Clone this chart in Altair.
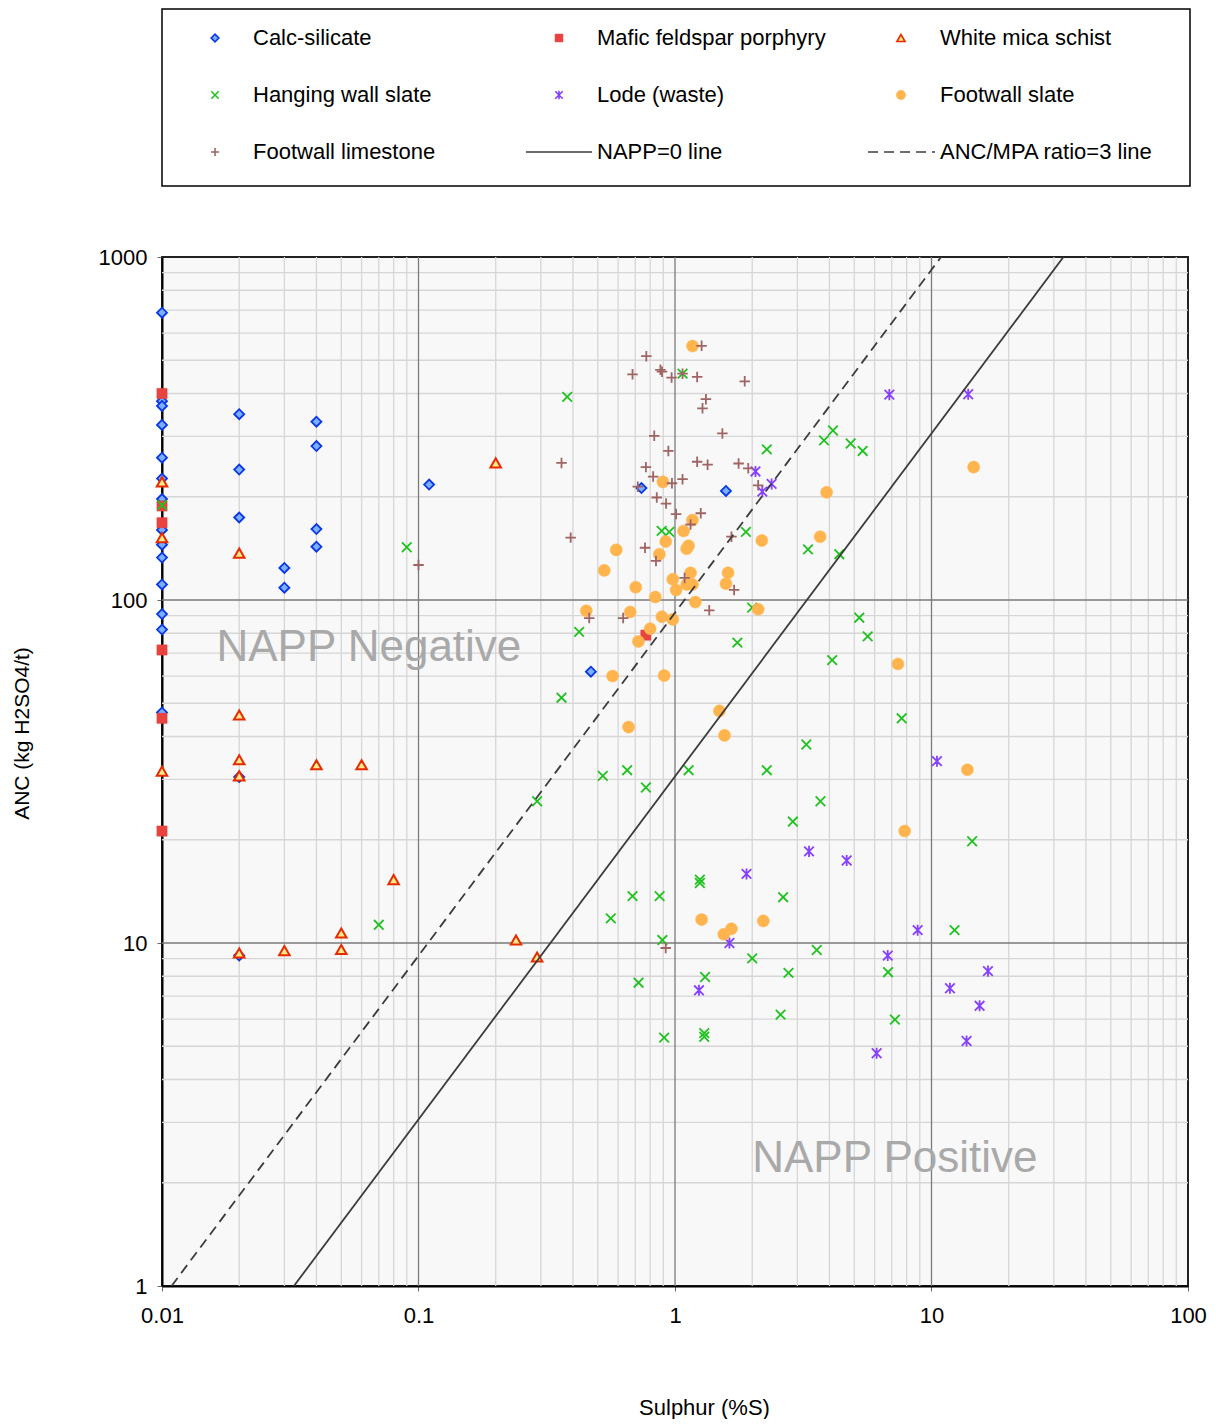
import altair as alt
import pandas as pd

# ---------------- data ----------------
calc_S = [0.01, 0.01, 0.01, 0.01, 0.01, 0.01, 0.01, 0.01, 0.01, 0.01, 0.01, 0.01, 0.01, 0.01,
          0.02, 0.02, 0.02, 0.02, 0.02, 0.03, 0.03, 0.04, 0.04, 0.04, 0.04, 0.11, 0.74, 1.58, 0.47]
calc_A = [688, 380, 368, 324, 260, 226, 197, 160, 145, 133, 111, 91, 82, 47,
          348, 240, 174, 30.5, 9.2, 124, 108.6, 331, 281, 161, 143, 217, 212, 208, 61.8]

mafic_S = [0.01, 0.01, 0.01, 0.01, 0.01, 0.01, 0.77]
mafic_A = [400, 188, 168, 71.5, 45.2, 21.2, 79]

mica_S = [0.01, 0.01, 0.01, 0.02, 0.02, 0.02, 0.02, 0.02, 0.03, 0.04, 0.06, 0.08, 0.05, 0.05, 0.24, 0.29, 0.2]
mica_A = [221, 152, 31.7, 137, 46.2, 34.2, 30.7, 9.35, 9.5, 33.1, 33.1, 15.3, 10.7, 9.57, 10.2, 9.1, 251]

hw_S = [0.01, 0.09, 0.07, 0.29, 0.38, 1.07, 2.28, 0.887, 0.95, 1.89, 0.423, 0.361, 1.75, 2.0, 5.23, 5.64,
        4.10, 7.65, 3.25, 2.28, 1.13, 0.651, 0.523, 0.77, 3.69, 2.88, 1.25, 1.25, 0.683, 0.871, 2.64,
        0.562, 0.893, 3.57, 2.0, 2.77, 6.77, 1.31, 0.721, 2.58, 7.2, 1.30, 1.30, 0.907, 3.81, 4.13, 4.84,
        5.39, 3.30, 4.37, 14.4, 12.3]
hw_A = [189, 142.5, 11.3, 25.9, 391, 457, 275, 159, 158, 158, 80.7, 51.9, 75.1, 95, 88.8, 78.3,
        66.8, 45.2, 37.9, 31.9, 31.9, 31.9, 30.7, 28.4, 25.9, 22.6, 15.3, 14.96, 13.7, 13.7, 13.6,
        11.8, 10.2, 9.54, 9.02, 8.18, 8.22, 7.96, 7.66, 6.18, 5.98, 5.46, 5.33, 5.3, 292, 312, 286,
        272, 140.5, 136, 19.8, 10.9]

lode_S = [2.06, 2.38, 2.19, 6.85, 13.9, 3.33, 4.67, 1.90, 1.63, 1.24, 10.5, 8.83, 6.75, 16.6, 11.8, 15.4, 13.7, 6.11]
lode_A = [237, 218, 207, 397, 398, 18.5, 17.4, 15.9, 10.0, 7.28, 33.9, 10.9, 9.19, 8.28, 7.38, 6.56, 5.18, 4.77]

fws_S = [1.17, 0.897, 1.17, 1.08, 0.92, 1.13, 1.11, 0.59, 0.869, 0.53, 2.18, 1.61, 1.58, 0.703, 0.98,
         1.01, 1.15, 1.11, 1.17, 0.838, 1.20, 0.451, 0.669, 0.889, 0.98, 0.80, 2.11, 0.72, 0.571, 0.907,
         0.659, 1.49, 1.56, 7.40, 7.86, 1.27, 1.55, 1.66, 2.21, 3.90, 3.68, 14.6, 13.8]
fws_A = [550, 221, 171, 159, 148, 144, 141, 140, 136, 122, 149, 120, 111.6, 109, 115,
         107, 120, 111, 111, 102, 98.6, 93, 92.3, 89.4, 87.8, 82.5, 94, 75.7, 60, 60.2,
         42.6, 47.5, 40.3, 65.1, 21.2, 11.7, 10.6, 11.0, 11.6, 206, 153, 244, 32.0]

fwl_S = [0.1, 1.27, 0.773, 0.683, 0.877, 0.89, 0.97, 1.07, 1.22, 1.87, 1.32, 1.28, 0.83, 1.53, 0.942,
         0.361, 0.77, 1.22, 1.34, 1.77, 1.93, 0.822, 0.716, 0.973, 1.07, 2.11, 0.849, 0.923, 1.01,
         1.26, 1.15, 1.66, 0.392, 0.764, 0.843, 1.09, 1.70, 1.36, 0.463, 0.628, 0.92]
fwl_A = [126.5, 551, 514, 455, 469, 463, 445, 457, 447, 434, 385, 362, 301, 306, 272,
         251, 244, 253, 248, 250, 242, 229, 214, 219, 225, 216, 199, 191, 178,
         179, 166, 153, 152, 142, 130, 116, 107, 93.3, 88.6, 88.6, 9.67]

# reference lines: NAPP = 0 -> ANC = MPA = 30.6*S ; ANC/MPA = 3 -> ANC = 91.8*S
line_S = [0.01, 100]
mpa_factor = 30.6

x_ticks = [0.01, 0.1, 1, 10, 100]
y_ticks = [1, 10, 100, 1000]
x_grid_minor = [0.02, 0.03, 0.04, 0.05, 0.06, 0.07, 0.08, 0.09, 0.2, 0.3, 0.4, 0.5, 0.6, 0.7, 0.8, 0.9,
                2, 3, 4, 5, 6, 7, 8, 9, 20, 30, 40, 50, 60, 70, 80, 90]
x_grid_major = [0.1, 1, 10]
y_grid_minor = [2, 3, 4, 5, 6, 7, 8, 9, 20, 30, 40, 50, 60, 70, 80, 90, 200, 300, 400, 500, 600, 700, 800, 900]
y_grid_major = [10, 100]

notes = ["NAPP Negative", "NAPP Positive"]
notes_S = [0.0163, 2.0]
notes_A = [72.5, 2.35]

# ---------------- styles ----------------
X_PATH = "M-1,-1L1,1M-1,1L1,-1"
AST_PATH = "M-1,-1L1,1M-1,1L1,-1M0,-1.15L0,1.15"
PLUS_PATH = "M-1,0L1,0M0,-1L0,1"

series = [
    ("Calc-silicate", calc_S, calc_A,
     dict(shape="diamond", size=100, filled=True, fill="#7aaeff", stroke="#0a36e6", strokeWidth=1.8)),
    ("Mafic feldspar porphyry", mafic_S, mafic_A,
     dict(shape="square", size=105, filled=True, fill="#e8433f", stroke="#e8433f", strokeWidth=0.5)),
    ("White mica schist", mica_S, mica_A,
     dict(shape="triangle-up", size=110, filled=True, fill="#ffe98a", stroke="#e82a00", strokeWidth=2)),
    ("Hanging wall slate", hw_S, hw_A,
     dict(shape=X_PATH, size=92, filled=False, stroke="#1fc21f", strokeWidth=1.8)),
    ("Lode (waste)", lode_S, lode_A,
     dict(shape=AST_PATH, size=92, filled=False, stroke="#8640ff", strokeWidth=1.8)),
    ("Footwall slate", fws_S, fws_A,
     dict(shape="circle", size=145, filled=True, fill="#ffb44e", stroke="#ffb44e", strokeWidth=0.5)),
    ("Footwall limestone", fwl_S, fwl_A,
     dict(shape=PLUS_PATH, size=110, filled=False, stroke="#a06464", strokeWidth=1.8)),
]

FONT = "Liberation Sans"
W, H = 1026, 1029

xs = alt.Scale(type="log", domain=[0.01, 100], nice=False)
ys = alt.Scale(type="log", domain=[1, 1000], nice=False)

x_axis = alt.Axis(values=x_ticks, format="~g", grid=False, title="Sulphur (%S)", labelFlush=False,
                  labelFontSize=22, labelPadding=14, tickSize=5, tickColor="#666", tickWidth=1,
                  domainColor="black", domainWidth=2, labelColor="black", labelFont=FONT,
                  titleFontSize=22, titleFontWeight="normal", titleFont=FONT, titleColor="black",
                  titleX=542, titleY=121, titleAlign="center", titleBaseline="middle")
y_axis = alt.Axis(values=y_ticks, format="~g", grid=False, title="ANC (kg H2SO4/t)", labelFlush=False,
                  labelFontSize=22, labelPadding=10, tickSize=5, tickColor="#666", tickWidth=1,
                  domainColor="black", domainWidth=2, labelColor="black", labelFont=FONT,
                  titleFontSize=21, titleFontWeight="normal", titleFont=FONT, titleColor="black",
                  titleX=-140, titleY=476, titleAngle=270, titleAlign="center", titleBaseline="middle")


def X(field="S"):
    return alt.X(f"{field}:Q", scale=xs, axis=x_axis)


def Y(field="ANC"):
    return alt.Y(f"{field}:Q", scale=ys, axis=y_axis)


layers = []
# grid lines
layers.append(alt.Chart(pd.DataFrame({"S": x_grid_minor})).mark_rule(color="#d6d6d6", strokeWidth=1.3).encode(x=X()))
layers.append(alt.Chart(pd.DataFrame({"ANC": y_grid_minor})).mark_rule(color="#d6d6d6", strokeWidth=1.3).encode(y=Y()))
layers.append(alt.Chart(pd.DataFrame({"S": x_grid_major})).mark_rule(color="#7a7a7a", strokeWidth=1.3).encode(x=X()))
layers.append(alt.Chart(pd.DataFrame({"ANC": y_grid_major})).mark_rule(color="#7a7a7a", strokeWidth=1.3).encode(y=Y()))

# annotations
notes_df = pd.DataFrame({"S": notes_S, "ANC": notes_A, "t": notes})
layers.append(alt.Chart(notes_df).mark_text(font=FONT, fontSize=44, color="#a9a9a9", align="left",
                                            baseline="middle").encode(x=X(), y=Y(), text="t:N"))

# data points
for name, s, a, st in series:
    df = pd.DataFrame({"S": s, "ANC": a})
    layers.append(alt.Chart(df).mark_point(opacity=1, **st).encode(x=X(), y=Y()))

# NAPP lines
napp_df = pd.DataFrame({"S": line_S, "ANC": [mpa_factor * v for v in line_S]})
ratio_df = pd.DataFrame({"S": line_S, "ANC": [3 * mpa_factor * v for v in line_S]})
layers.append(alt.Chart(napp_df).mark_line(color="#3c3c3c", strokeWidth=1.8, clip=True).encode(x=X(), y=Y()))
layers.append(alt.Chart(ratio_df).mark_line(color="#3c3c3c", strokeWidth=1.8, strokeDash=[10, 6], clip=True)
              .encode(x=X(), y=Y()))

main = alt.layer(*layers).properties(
    width=W, height=H,
    view=alt.ViewBackground(fill="#f8f8f8", stroke="#222222", strokeWidth=2),
)

# ---------------- legend box ----------------
LW, LH = 1028, 177
col_sym = [53, 397, 739]
col_txt = [91, 435, 778]
row_y = [29, 86, 143]

leg_layers = []
leg_labels = []
for i, (name, s, a, st) in enumerate(series):
    r, c = divmod(i, 3)
    st2 = dict(st)
    st2["size"] = st["size"] * 0.6
    st2["strokeWidth"] = min(st["strokeWidth"], 1.6)
    leg_layers.append(alt.Chart(pd.DataFrame({"px": [col_sym[c]], "py": [row_y[r]]}))
                      .mark_point(opacity=1, **st2)
                      .encode(x=alt.X("px:Q", scale=None, axis=None), y=alt.Y("py:Q", scale=None, axis=None)))
    leg_labels.append((col_txt[c], row_y[r], name))

# line samples
line_items = [("NAPP=0 line", 1, [364, 430], None), ("ANC/MPA ratio=3 line", 2, [706, 773], [10, 6])]
for name, c, (x0, x1), dash in line_items:
    dfl = pd.DataFrame({"px": [x0], "px2": [x1], "py": [row_y[2]]})
    kw = dict(color="#3c3c3c", strokeWidth=1.7)
    if dash:
        kw["strokeDash"] = dash
    leg_layers.append(alt.Chart(dfl).mark_rule(**kw).encode(
        x=alt.X("px:Q", scale=None, axis=None), x2="px2:Q", y=alt.Y("py:Q", scale=None, axis=None)))
    leg_labels.append((col_txt[c], row_y[2], name))

lab_df = pd.DataFrame({"px": [l[0] for l in leg_labels], "py": [l[1] for l in leg_labels],
                       "t": [l[2] for l in leg_labels]})
leg_layers.append(alt.Chart(lab_df).mark_text(font=FONT, fontSize=22, color="black", align="left",
                                              baseline="middle")
                  .encode(x=alt.X("px:Q", scale=None, axis=None), y=alt.Y("py:Q", scale=None, axis=None),
                          text="t:N"))

legend = alt.layer(*leg_layers).properties(
    width=LW, height=LH,
    view=alt.ViewBackground(fill="white", stroke="black", strokeWidth=1.5),
)

chart = alt.vconcat(legend, main, spacing=71, bounds="flush").properties(
    padding={"left": 2, "top": 0, "right": 0, "bottom": 0}
).configure(font=FONT)

chart.save("out.html", embed_options={"renderer": "svg", "actions": False})
